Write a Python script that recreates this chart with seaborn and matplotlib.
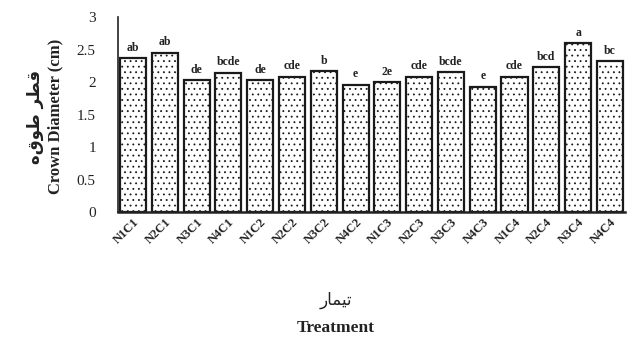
import matplotlib
matplotlib.use("Agg")
import matplotlib.pyplot as plt
import seaborn as sns
import pandas as pd

treatments = ["N1C1", "N2C1", "N3C1", "N4C1", "N1C2", "N2C2", "N3C2", "N4C2",
              "N1C3", "N2C3", "N3C3", "N4C3", "N1C4", "N2C4", "N3C4", "N4C4"]
crown_diameter = [2.37, 2.45, 2.03, 2.14, 2.03, 2.08, 2.17, 1.96,
                  2.00, 2.08, 2.15, 1.93, 2.08, 2.23, 2.60, 2.32]
letters = ["ab", "ab", "de", "bcde", "de", "cde", "b", "e",
           "2e", "cde", "bcde", "e", "cde", "bcd", "a", "bc"]
yticks = [0, 0.5, 1, 1.5, 2, 2.5, 3]
ytick_labels = ["0", "0.5", "1", "1.5", "2", "2.5", "3"]

# Persian labels in presentation forms, visual order
fa_ylabel = "\uFEE9\uFED5\uFEEE\uFEC3 \uFEAE\uFEC4\uFED7"   # قطر طوقه
fa_xlabel = "\uFEAD\uFE8E\uFEE4\uFEF4\uFE97"               # تیمار

df = pd.DataFrame({"Treatment": treatments, "Value": crown_diameter})

sns.set_style("white")
plt.rcParams["font.family"] = ["Liberation Serif", "DejaVu Sans"]
plt.rcParams["hatch.color"] = "#8a8a8a"
plt.rcParams["hatch.linewidth"] = 0.6

fig = plt.figure(figsize=(6.28, 3.43), dpi=100)
ax = fig.add_axes([0.188, 0.382, 0.807, 0.568])

sns.barplot(data=df, x="Treatment", y="Value", color="white", edgecolor="#1a1a1a",
            linewidth=1.6, width=0.82, ax=ax, saturation=1)
for p in ax.patches:
    p.set_hatch("...")

for i, (v, l) in enumerate(zip(crown_diameter, letters)):
    ax.text(i, v + 0.07, l, ha="center", va="bottom", fontsize=8.5, fontweight="bold",
            family="Liberation Serif", color="#222222")

ax.set_xlim(-0.47, len(treatments) - 0.53)
ax.set_ylim(0, 3)
ax.set_yticks(yticks)
ax.set_yticklabels(ytick_labels, fontsize=11)
ax.set_xticks(range(len(treatments)))
ax.set_xticklabels(treatments, rotation=45, ha="right", rotation_mode="anchor",
                   fontsize=9, fontweight="bold", color="#222222")
ax.tick_params(axis="y", length=3, direction="in", width=1, pad=16, colors="#222222")
ax.tick_params(axis="x", length=0, pad=3)
for s in ["top", "right"]:
    ax.spines[s].set_visible(False)
ax.spines["left"].set_color("#222222")
ax.spines["left"].set_linewidth(1.2)
ax.spines["bottom"].set_color("#222222")
ax.spines["bottom"].set_linewidth(1.8)
ax.set_xlabel("")
ax.set_ylabel("")

fig.text(0.088, 0.66, "Crown Diameter (cm)", rotation=90, ha="center", va="center",
         fontsize=12, fontweight="bold", family="Liberation Serif", color="#222222")
fig.text(0.055, 0.66, fa_ylabel, rotation=90, ha="center", va="center",
         fontsize=12, fontweight="bold", family="DejaVu Sans", color="#222222")
fig.text(0.535, 0.125, fa_xlabel, ha="center", va="center",
         fontsize=12, family="DejaVu Sans", color="#222222")
fig.text(0.535, 0.045, "Treatment", ha="center", va="center",
         fontsize=12.5, fontweight="bold", family="Liberation Serif", color="#222222")

fig.savefig("out.png", dpi=100)
